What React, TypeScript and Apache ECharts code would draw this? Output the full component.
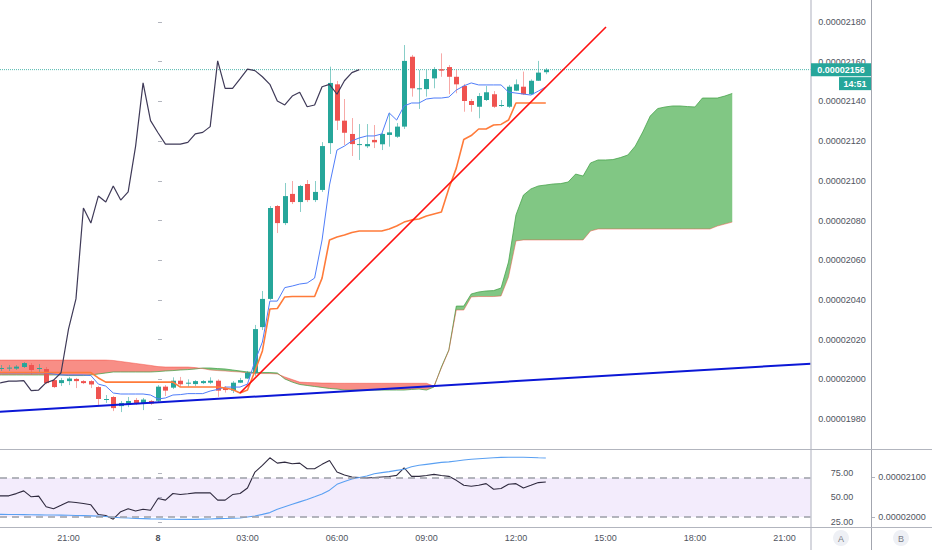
import React, { useEffect, useRef } from "react";
import * as echarts from "echarts";

// 15-minute bars; bar index 0 = 00:00 on day 8
const FIRST_BAR = -21;
const opens = [2005.4, 2005.7, 2005.4, 2006.2, 2007.2, 2005.4, 2005.2, 1999.6, 1998.1, 1999.1, 2000.2, 1999.1, 1999.1, 1996.1, 1989.8, 1991.1, 1986.5, 1987.1, 1989.6, 1987.6, 1989.1,
  1989.2, 1996.3, 1995.8, 1999.3, 1998.0, 1997.6, 1998.1, 1998.3, 1999.3, 1995.6, 1994.3, 1998.3, 2000.4, 2003.2, 2026.3, 2040.5, 2087.3, 2078.7, 2093.4, 2089.3, 2098.4, 2090.3, 2095.4, 2119.0, 2148.6, 2130.3, 2123.6, 2118.3, 2117.4, 2120.6, 2118.4, 2123.1, 2122.2, 2127.3, 2162.5, 2146.4, 2146.2, 2151.6, 2156.2, 2157.3, 2152.4, 2147.8, 2140.2, 2137.3, 2140.7, 2143.6, 2138.0, 2137.3, 2145.4, 2147.4, 2143.6, 2150.4, 2154.7];
const closes = [2005.7, 2005.9, 2006.4, 2008.2, 2004.7, 2005.7, 1998.1, 1996.1, 1999.6, 2000.4, 1999.1, 1998.1, 1997.4, 1990.1, 1990.1, 1985.5, 1988.1, 1989.1, 1987.8, 1989.8, 1987.8,
  1996.3, 1994.3, 1999.3, 1997.5, 1998.3, 1999.1, 1999.1, 1999.3, 1994.3, 1994.6, 1998.3, 1999.6, 2003.3, 2025.3, 2040.5, 2086.3, 2078.7, 2092.3, 2089.3, 2097.4, 2090.3, 2094.4, 2117.5, 2149.3, 2130.3, 2124.2, 2118.5, 2118.5, 2118.5, 2119.4, 2123.6, 2124.4, 2127.3, 2160.4, 2146.6, 2146.6, 2151.3, 2156.3, 2155.5, 2152.4, 2148.6, 2140.2, 2138.2, 2142.7, 2144.6, 2137.3, 2138.2, 2147.4, 2148.6, 2143.6, 2150.4, 2154.5, 2156.0];
const lows = [2004.2, 2004.2, 2004.7, 2005.7, 2002.2, 2003.7, 1997.6, 1995.6, 1996.6, 1997.1, 1995.6, 1997.6, 1995.6, 1987.1, 1988.1, 1984.0, 1983.5, 1986.0, 1987.1, 1984.5, 1987.1,
  1988.6, 1991.6, 1995.1, 1996.3, 1996.3, 1996.6, 1997.6, 1997.6, 1991.2, 1993.3, 1993.1, 1998.1, 2000.2, 2001.7, 2024.8, 2039.9, 2073.7, 2077.7, 2088.3, 2084.3, 2089.3, 2089.3, 2094.4, 2113.5, 2125.6, 2118.0, 2112.5, 2110.5, 2116.5, 2116.5, 2115.5, 2117.2, 2121.6, 2126.1, 2142.4, 2136.2, 2142.4, 2146.6, 2152.4, 2143.6, 2144.1, 2134.8, 2134.8, 2131.5, 2140.2, 2136.7, 2137.2, 2136.7, 2145.2, 2143.2, 2143.2, 2150.3, 2153.7];
const highs = [2007.2, 2007.2, 2007.2, 2008.7, 2008.2, 2007.7, 2006.2, 2000.2, 2000.7, 2001.2, 2000.7, 1999.6, 1999.6, 1996.6, 1992.1, 1991.6, 1989.1, 1991.1, 1990.6, 1990.6, 1989.6,
  1997.1, 1997.1, 2001.0, 2001.2, 2000.0, 1999.6, 1999.6, 2001.0, 2000.0, 1996.6, 1999.1, 2000.7, 2004.2, 2027.4, 2044.5, 2087.3, 2087.8, 2098.9, 2099.9, 2097.9, 2100.4, 2099.9, 2119.5, 2157.5, 2150.3, 2141.2, 2131.6, 2128.6, 2128.6, 2128.1, 2124.1, 2134.2, 2129.1, 2168.4, 2163.4, 2155.8, 2155.8, 2157.3, 2164.2, 2158.3, 2155.8, 2148.8, 2141.2, 2144.2, 2147.8, 2145.2, 2140.7, 2148.3, 2151.1, 2155.0, 2151.1, 2160.4, 2156.8];

// Ichimoku lines (start at bar -22)
const LINE_FIRST = -22;
const tenkan = [2003.2, 2003.2, 2003.2, 2003.2, 2003.2, 2003.2, 2003.2, 2003.2, 2002.7, 2002.2, 2002.2, 2002.2, 2002.2, 2001.9, 1997.6, 1996.6, 1993.1, 1992.6, 1992.6, 1992.6, 1992.6, 1992.1,
  1990.1, 1990.6, 1992.1, 1992.3, 1992.8, 1992.8, 1992.8, 1994.1, 1994.9, 1996.1, 1996.1, 1996.1, 1997.6, 2009.2, 2018.8, 2039.4, 2039.4, 2046.2, 2047.0, 2048.0, 2048.5, 2051.0, 2070.2, 2097.9, 2115.5, 2117.5, 2120.1, 2121.6, 2122.6, 2122.6, 2123.6, 2134.2, 2130.6, 2137.7, 2139.2, 2139.2, 2141.2, 2141.7, 2141.7, 2142.2, 2145.7, 2147.8, 2149.3, 2148.3, 2148.3, 2148.3, 2148.3, 2144.7, 2144.2, 2143.7, 2143.2, 2145.2, 2147.3];
const kijun = [2003.4, 2003.4, 2003.4, 2003.4, 2003.4, 2003.4, 2003.4, 2003.4, 2003.4, 2003.4, 2003.4, 2003.4, 2003.4, 2003.4, 2000.7, 1998.6, 1998.6, 1998.6, 1998.6, 1998.6, 1998.6, 1998.6,
  1998.6, 1998.6, 1998.6, 1996.1, 1996.1, 1996.1, 1996.1, 1996.1, 1996.1, 1995.6, 1994.9, 1993.1, 1994.6, 2004.2, 2014.3, 2035.4, 2035.7, 2041.5, 2041.7, 2041.7, 2041.7, 2041.7, 2051.0, 2070.2, 2071.7, 2072.7, 2074.0, 2074.7, 2074.7, 2074.7, 2074.7, 2075.7, 2077.2, 2079.2, 2080.3, 2080.8, 2082.3, 2083.3, 2084.3, 2096.1, 2106.4, 2120.8, 2122.8, 2126.1, 2126.1, 2128.1, 2128.4, 2130.6, 2139.2, 2139.2, 2139.2, 2139.2, 2139.2];

// Cloud (start at bar -22, runs 25 bars ahead)
const CLOUD_FIRST = -22;
const senkouA = [2002.2, 2002.2, 2002.2, 2002.2, 2002.2, 2002.2, 2002.2, 2002.2, 2002.2, 2002.2, 2001.9, 2001.9, 2001.9, 2002.2, 2002.7, 2003.2, 2003.7, 2003.7, 2003.7, 2003.7, 2003.7, 2003.7,
  2003.9, 2004.2, 2004.4, 2004.7, 2004.9, 2005.2, 2005.7, 2005.7, 2005.4, 2005.2, 2004.7, 2004.2, 2003.7, 2003.4, 2003.4, 2003.4, 2003.2, 2000.2, 1998.6, 1997.4, 1996.9, 1996.4, 1995.9, 1995.4, 1995.1,
  1994.6, 1994.6, 1994.6, 1994.6, 1994.6, 1994.6, 1994.6, 1994.6, 1994.6, 1994.9, 1995.1, 1994.6, 1996.1, 2006.2, 2014.8, 2036.9, 2036.9, 2043.0, 2044.0, 2044.5, 2044.7, 2046.0, 2059.1, 2082.8,
  2092.8, 2095.9, 2097.4, 2097.9, 2098.4, 2098.6, 2099.4, 2103.4, 2102.4, 2109.0, 2110.5, 2110.5, 2110.7, 2111.7, 2113.0, 2117.5, 2124.6, 2132.6, 2136.4, 2137.2, 2137.7, 2137.7, 2137.4, 2137.2, 2141.7, 2141.7, 2141.7, 2142.7, 2144.0];
const senkouB = [2009.7, 2009.7, 2009.7, 2009.7, 2009.7, 2009.7, 2009.7, 2009.7, 2009.7, 2009.7, 2009.7, 2009.7, 2009.7, 2009.7, 2009.7, 2009.7, 2009.5, 2009.0, 2008.5, 2008.0, 2007.5, 2007.0,
  2006.4, 2006.2, 2006.2, 2006.2, 2006.2, 2005.9, 2005.4, 2004.7, 2004.4, 2004.2, 2003.9, 2003.7, 2003.2, 2002.9, 2002.9, 2002.9, 2002.7, 2001.2, 1999.9, 1998.6, 1998.4, 1998.3, 1998.1, 1998.1,
  1998.0, 1998.0, 1998.0, 1998.0, 1998.0, 1998.0, 1998.0, 1998.0, 1998.0, 1998.0, 1998.0, 1998.0, 1998.0, 1996.6, 2005.7, 2014.5, 2034.9, 2034.9, 2041.5, 2041.7, 2041.7, 2041.7, 2042.0, 2051.5, 2069.7,
  2070.2, 2070.2, 2070.2, 2070.2, 2070.2, 2070.2, 2070.2, 2070.2, 2070.2, 2074.7, 2075.7, 2075.7, 2075.7, 2075.7, 2075.7, 2075.7, 2075.7, 2075.7, 2075.7, 2075.7, 2075.7, 2075.7, 2075.7, 2075.7, 2075.7, 2075.7, 2077.2, 2078.2, 2079.2];
const CHIKOU_SHIFT = -25;

// Drawn trend lines [bar, price]
const redTrendX = [11, 60.07];
const redTrendY = [1993.1, 2177.5];
const blueTrendX = [-21.19, 87.56];
const blueTrendY = [1983.7, 2007.9];

// RSI pane (start at bar -22)
const RSI_FIRST = -22;
const rsi = [51.7, 51.7, 51.7, 54, 56.8, 50.7, 51.4, 40.5, 38.5, 42, 45.6, 44.8, 43.8, 42.5, 32.5, 31.5, 27.8, 35.4, 38.5, 36.1, 38, 37,
  49, 47.3, 54.1, 53, 53.8, 54.7, 54.7, 54.7, 47.3, 47.3, 53, 54.1, 59.8, 76.1, 82.9, 90.7, 85.3, 86.3, 84.6, 85.3, 79.5, 79.5, 84, 88, 76.1, 73, 71, 70.5, 70, 70.5, 71, 71.5, 72.7, 80.5, 71.7, 71.7, 72.5, 73.7, 72.5, 71.7, 67.6, 62.5, 61.5, 62.5, 64.2, 58.5, 59.2, 63.6, 64.2, 59.8, 62.5, 65.3, 65.9];
const rsiMa = [32.7, 32.7, 32.6, 32.5, 32.4, 32.3, 32.2, 32.1, 32, 31.9, 31.8, 31.6, 31.4, 31.2, 30.9, 30.5, 29.8, 29.3, 28.9, 28.5, 28.3, 28.1,
  28, 27.8, 27.7, 27.6, 27.6, 27.6, 27.8, 28, 28.3, 28.5, 28.7, 28.9, 30, 31, 32.7, 34.5, 38, 40.5, 43, 45.5, 48, 50.7, 53.5, 57.5, 63.5, 66.5, 69, 70.5, 72, 74.4, 75.5, 76.5, 77.8, 79, 81.5, 83, 84, 85, 86, 86.5, 87.5, 88.5, 89.2, 89.8, 90.3, 90.8, 91.2, 91.3, 91.3, 91.3, 91, 90.7, 90.5];
const rsiBand = [30, 70];

// Axes
const priceTicks = [1980, 2000, 2020, 2040, 2060, 2080, 2100, 2120, 2140, 2160, 2180];
const rsiTicks = [25, 50, 75];
const overlayTicks = [2000, 2100];
const timeTicks = [-12, 0, 12, 24, 36, 48, 60, 72, 84];
const timeLabels = ["21:00", "8", "03:00", "06:00", "09:00", "12:00", "15:00", "18:00", "21:00"];
const DAY_TICK = 0;
const countdown = "14:51";

const X_MIN = -21.185, X_MAX = 87.56;
const PRICE_MIN = 1964.9, PRICE_MAX = 2191.08;
const RSI_MIN = 19.74, RSI_MAX = 98.72;
const OVL_MIN = 1975, OVL_MAX = 2167.5;

const FONT = "'Liberation Sans', Arial, sans-serif";
const TXT = "#50535e";
const UP = "#26a69a", DOWN = "#ef5350";
const GREEN_FILL = "rgba(76,175,80,0.7)", RED_FILL = "rgba(244,67,54,0.6)";

const fmtPrice = (v: number) => (v / 1e8).toFixed(8);
const series2 = (first: number, vals: number[]) => vals.map((v, i) => [first + i, v]);

function cloudRuns() {
  type P = { x: number; a: number; b: number; cross?: boolean };
  const pts: P[] = [];
  for (let i = 0; i < senkouA.length; i++) {
    const x = CLOUD_FIRST + i;
    pts.push({ x, a: senkouA[i], b: senkouB[i] });
    if (i < senkouA.length - 1) {
      const d0 = senkouA[i] - senkouB[i];
      const d1 = senkouA[i + 1] - senkouB[i + 1];
      if (d0 * d1 < 0) {
        const t = d0 / (d0 - d1);
        const y = senkouA[i] + t * (senkouA[i + 1] - senkouA[i]);
        pts.push({ x: x + t, a: y, b: y, cross: true });
      }
    }
  }
  const runs: { sign: number; pts: P[] }[] = [];
  let cur: P[] = [pts[0]];
  let sign = 0;
  const d0 = pts[0].a - pts[0].b;
  if (d0 !== 0) sign = d0 > 0 ? 1 : -1;
  for (let k = 1; k < pts.length; k++) {
    const p = pts[k];
    cur.push(p);
    const d = p.a - p.b;
    if (!p.cross && sign === 0 && d !== 0) sign = d > 0 ? 1 : -1;
    if (p.cross) {
      runs.push({ sign, pts: cur });
      cur = [p];
      sign = 0;
    }
  }
  runs.push({ sign, pts: cur });
  return runs;
}

function buildOption() {
  const candleData = opens.map((o, i) => [FIRST_BAR + i, o, closes[i], lows[i], highs[i]]);
  const chikou = closes.map((c, i) => [FIRST_BAR + i + CHIKOU_SHIFT, c]);
  const lineBase = { type: "line", showSymbol: false, symbol: "none", silent: true, clip: true };
  const lastClose = closes[closes.length - 1];
  const runs = cloudRuns();

  return {
    animation: false,
    backgroundColor: "#ffffff",
    grid: [
      { left: 0, top: 0, width: 811, height: 449 },
      { left: 0, top: 450, width: 811, height: 77 },
    ],
    xAxis: [
      { type: "value", gridIndex: 0, min: X_MIN, max: X_MAX, show: false },
      {
        type: "value", gridIndex: 1, min: X_MIN, max: X_MAX,
        axisLine: { show: false }, axisTick: { show: false }, splitLine: { show: false },
        axisLabel: {
          customValues: timeTicks, margin: 6, fontSize: 9, color: TXT, fontFamily: FONT,
          formatter: (v: number) => {
            const k = timeTicks.indexOf(Math.round(v));
            const s = k >= 0 ? timeLabels[k] : "";
            return Math.round(v) === DAY_TICK ? "{d|" + s + "}" : s;
          },
          rich: { d: { fontWeight: "bold", fontSize: 9, color: TXT, fontFamily: FONT } },
        },
      },
    ],
    yAxis: [
      {
        type: "value", gridIndex: 0, position: "right", min: PRICE_MIN, max: PRICE_MAX,
        axisLine: { show: false }, splitLine: { show: false },
        axisTick: { show: true, customValues: priceTicks, length: 4, lineStyle: { color: "#b2b5be" } },
        axisLabel: { customValues: priceTicks, formatter: fmtPrice, align: "center", margin: 31, fontSize: 9, color: TXT, fontFamily: FONT },
      },
      {
        type: "value", gridIndex: 1, position: "right", min: RSI_MIN, max: RSI_MAX,
        axisLine: { show: false }, splitLine: { show: false },
        axisTick: { show: true, customValues: rsiTicks, length: 4, lineStyle: { color: "#b2b5be" } },
        axisLabel: { customValues: rsiTicks, formatter: (v: number) => v.toFixed(2), align: "center", margin: 31, fontSize: 9, color: TXT, fontFamily: FONT },
      },
      {
        type: "value", gridIndex: 1, position: "right", offset: 60, min: OVL_MIN, max: OVL_MAX,
        axisLine: { show: false }, splitLine: { show: false },
        axisTick: { show: true, customValues: overlayTicks, length: 4, lineStyle: { color: "#b2b5be" } },
        axisLabel: { customValues: overlayTicks, formatter: fmtPrice, align: "center", margin: 31, fontSize: 9, color: TXT, fontFamily: FONT },
      },
    ],
    series: [
      {
        type: "custom", name: "cloud", xAxisIndex: 0, yAxisIndex: 0, z: 1, silent: true, clip: true,
        data: [[0, 2000]], encode: { x: 0, y: 1 },
        renderItem: (_p: any, api: any) => ({
          type: "group",
          children: runs.map((run) => {
            const top = run.pts.map((p) => api.coord([p.x, p.a]));
            const bot = run.pts.slice().reverse().map((p) => api.coord([p.x, p.b]));
            return { type: "polygon", shape: { points: top.concat(bot) }, style: { fill: run.sign >= 0 ? GREEN_FILL : RED_FILL } };
          }),
        }),
      },
      { ...lineBase, name: "Lead 1", xAxisIndex: 0, yAxisIndex: 0, z: 2, data: series2(CLOUD_FIRST, senkouA), lineStyle: { color: "rgba(67,160,71,0.75)", width: 1 } },
      { ...lineBase, name: "Lead 2", xAxisIndex: 0, yAxisIndex: 0, z: 2, data: series2(CLOUD_FIRST, senkouB), lineStyle: { color: "rgba(244,67,54,0.45)", width: 1 } },
      {
        ...lineBase, name: "Last price", xAxisIndex: 0, yAxisIndex: 0, z: 2, color: UP,
        itemStyle: { color: UP },
        data: [[X_MIN, lastClose], [X_MAX, lastClose]],
        lineStyle: { color: UP, width: 1, type: "dotted", opacity: 0.8 },
      },
      {
        type: "custom", name: "candles", xAxisIndex: 0, yAxisIndex: 0, z: 3, silent: true, clip: true,
        data: candleData, encode: { x: 0, y: [1, 2, 3, 4] },
        renderItem: (_p: any, api: any) => {
          const x = api.value(0), o = api.value(1), c = api.value(2), l = api.value(3), h = api.value(4);
          const pO = api.coord([x, o]), pC = api.coord([x, c]), pL = api.coord([x, l]), pH = api.coord([x, h]);
          const w = Math.max(1, Math.round(api.size([1, 0])[0] * 0.68));
          const up = c >= o;
          const col = up ? UP : DOWN;
          const wick = up ? "rgba(38,166,154,0.55)" : "rgba(239,83,80,0.5)";
          const top = Math.min(pO[1], pC[1]);
          const bh = Math.max(Math.abs(pO[1] - pC[1]), 1);
          const cx = Math.round(pO[0]) + 0.5;
          return {
            type: "group",
            children: [
              { type: "line", shape: { x1: cx, y1: pH[1], x2: cx, y2: pL[1] }, style: { stroke: wick, lineWidth: 1 } },
              { type: "rect", shape: { x: cx - w / 2, y: top, width: w, height: bh }, style: { fill: col } },
            ],
          };
        },
      },
      { ...lineBase, name: "Conversion", xAxisIndex: 0, yAxisIndex: 0, z: 4, data: series2(LINE_FIRST, tenkan), lineStyle: { color: "#4f7df9", width: 1 } },
      { ...lineBase, name: "Base", xAxisIndex: 0, yAxisIndex: 0, z: 4, data: series2(LINE_FIRST, kijun), lineStyle: { color: "#ff7b3a", width: 1.6 } },
      { ...lineBase, name: "Lagging", xAxisIndex: 0, yAxisIndex: 0, z: 4, data: chikou, lineStyle: { color: "#3f3a58", width: 1.2 } },
      { ...lineBase, name: "Trend up", xAxisIndex: 0, yAxisIndex: 0, z: 5, data: redTrendX.map((x, i) => [x, redTrendY[i]]), lineStyle: { color: "#ff1010", width: 1.6 } },
      { ...lineBase, name: "Trend support", xAxisIndex: 0, yAxisIndex: 0, z: 5, data: blueTrendX.map((x, i) => [x, blueTrendY[i]]), lineStyle: { color: "#0b17d6", width: 2 } },
      {
        ...lineBase, name: "RSI", xAxisIndex: 1, yAxisIndex: 1, z: 4, data: series2(RSI_FIRST, rsi), lineStyle: { color: "#2f2a3f", width: 1.1 },
        markArea: { silent: true, itemStyle: { color: "rgba(142,68,230,0.1)" }, data: [[{ yAxis: rsiBand[0] }, { yAxis: rsiBand[1] }]] },
        markLine: {
          silent: true, symbol: ["none", "none"], label: { show: false },
          lineStyle: { type: [7, 5], color: "#9c9ea6", width: 1.5 },
          data: [{ yAxis: rsiBand[1] }, { yAxis: rsiBand[0] }],
        },
      },
      { ...lineBase, name: "RSI MA", xAxisIndex: 1, yAxisIndex: 1, z: 4, data: series2(RSI_FIRST, rsiMa), lineStyle: { color: "#5aa0f2", width: 1.1 } },
    ],
  };
}

function buildGraphic(yTag: number, lastClose: number) {
  const txt = (text: string, x: number, y: number, fill: string, size = 9, weight: any = "normal") => ({
    type: "text", x, y, z: 101, silent: true,
    style: { text, fill, fontSize: size, fontFamily: FONT, fontWeight: weight, align: "center", verticalAlign: "middle", textAlign: "center", textVerticalAlign: "middle" },
  });
  return [
    { type: "line", silent: true, z: 50, shape: { x1: 811, y1: 0, x2: 811, y2: 550 }, style: { stroke: "#c8cad3", lineWidth: 1.5 } },
    { type: "line", silent: true, z: 50, shape: { x1: 871.5, y1: 0, x2: 871.5, y2: 550 }, style: { stroke: "#a3a6af", lineWidth: 1 } },
    { type: "line", silent: true, z: 50, shape: { x1: 0, y1: 449.5, x2: 932, y2: 449.5 }, style: { stroke: "#b2b5be", lineWidth: 1 } },
    { type: "line", silent: true, z: 50, shape: { x1: 0, y1: 527.5, x2: 932, y2: 527.5 }, style: { stroke: "#b2b5be", lineWidth: 1 } },
    { type: "rect", silent: true, z: 100, shape: { x: 811, y: yTag - 6.5, width: 60, height: 13 }, style: { fill: UP } },
    txt(fmtPrice(lastClose), 841, yTag + 0.5, "#ffffff", 9, "bold"),
    { type: "rect", silent: true, z: 100, shape: { x: 839, y: yTag + 7.5, width: 32, height: 13 }, style: { fill: UP } },
    txt(countdown, 855, yTag + 14.5, "#ffffff", 9, "bold"),
    { type: "circle", silent: true, z: 100, shape: { cx: 841, cy: 538, r: 8 }, style: { fill: "#eef0f5" } },
    txt("A", 841, 538.5, "#787b86", 9),
    { type: "circle", silent: true, z: 100, shape: { cx: 901, cy: 538, r: 8 }, style: { fill: "#eef0f5" } },
    txt("B", 901, 538.5, "#787b86", 9),
  ];
}

export default function App() {
  const ref = useRef<HTMLDivElement>(null);
  useEffect(() => {
    document.body.style.margin = "0";
    const chart = echarts.init(ref.current as HTMLDivElement, null, { renderer: "svg" });
    chart.setOption(buildOption() as any);
    const lastClose = closes[closes.length - 1];
    const yTag = chart.convertToPixel({ yAxisIndex: 0 } as any, lastClose) as unknown as number;
    chart.setOption({ graphic: buildGraphic(yTag, lastClose) } as any);
    return () => chart.dispose();
  }, []);
  return <div ref={ref} style={{ width: 932, height: 550 }} />;
}
